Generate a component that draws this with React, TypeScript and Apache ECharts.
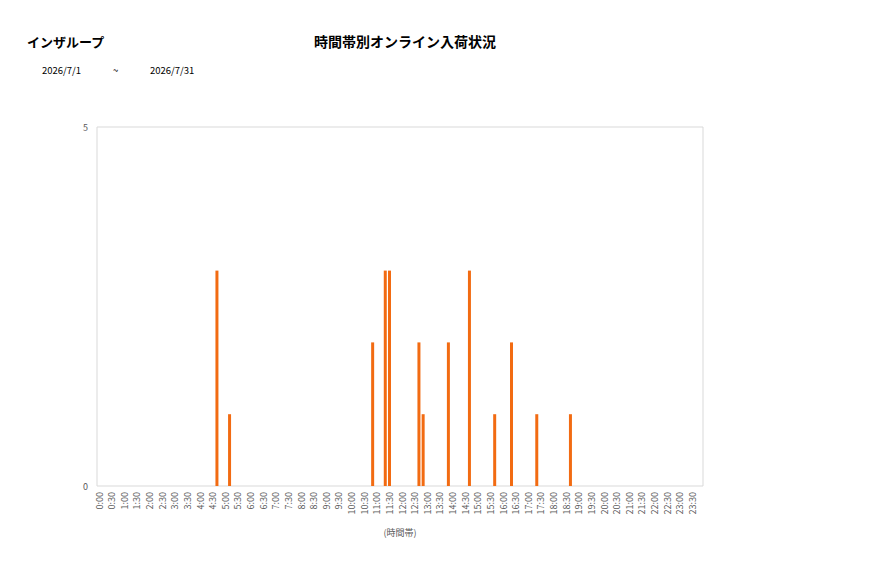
import { useEffect, useRef } from 'react';
import * as echarts from 'echarts';

const groupName = 'インザループ';
const chartTitle = '時間帯別オンライン入荷状況';
const dateFrom = '2026/7/1';
const dateTo = '2026/7/31';
const xAxisName = '(時間帯)';

// 10分刻みの時間帯 (0:00 ～ 23:50)
const timeSlots: string[] = [];
for (let h = 0; h < 24; h++) {
  for (let m = 0; m < 60; m += 10) {
    timeSlots.push(`${h}:${m === 0 ? '00' : m}`);
  }
}

// 入荷のあった時間帯と件数
const arrivalTimes = ['4:40', '5:10', '10:50', '11:20', '11:30', '12:40', '12:50', '13:50', '14:40', '15:40', '16:20', '17:20', '18:40'];
const arrivalCounts = [3, 1, 2, 3, 3, 2, 1, 2, 3, 1, 2, 1, 1];

const yMin = 0;
const yMax = 5;

const FONT = '"Noto Sans CJK JP", "Noto Sans", sans-serif';

const App: React.FC = () => {
  const chartRef = useRef<HTMLDivElement>(null);

  useEffect(() => {
    document.body.style.margin = '0';
    if (!chartRef.current) return;
    const chart = echarts.init(chartRef.current, undefined, { renderer: 'svg' });

    const values = timeSlots.map((t) => {
      const i = arrivalTimes.indexOf(t);
      return i >= 0 ? arrivalCounts[i] : 0;
    });

    chart.setOption({
      animation: false,
      backgroundColor: '#ffffff',
      textStyle: { fontFamily: FONT },
      grid: {
        left: 97,
        top: 127,
        width: 606,
        height: 359,
        show: true,
        borderColor: '#d9d9d9',
        borderWidth: 1,
        containLabel: false,
      },
      xAxis: {
        type: 'category',
        data: timeSlots,
        name: xAxisName,
        nameLocation: 'middle',
        nameGap: 42,
        nameTextStyle: { color: '#595959', fontSize: 9, fontFamily: FONT },
        axisLine: { show: false },
        axisTick: { show: false },
        axisLabel: {
          interval: 2,
          rotate: 90,
          color: '#595959',
          fontSize: 9,
          margin: 6,
          fontFamily: FONT,
        },
        splitLine: { show: false },
      },
      yAxis: {
        type: 'value',
        min: yMin,
        max: yMax,
        interval: 5,
        axisLine: { show: false },
        axisTick: { show: false },
        splitLine: { show: false },
        axisLabel: { color: '#595959', fontSize: 9, margin: 9, fontFamily: FONT },
      },
      series: [
        {
          type: 'bar',
          data: values,
          barWidth: 3,
          itemStyle: { color: '#f26b12' },
        },
      ],
      graphic: [
        {
          type: 'text',
          left: 27,
          top: 35,
          style: { text: groupName, fill: '#000', fontSize: 13, fontWeight: 'bold', fontFamily: FONT },
        },
        {
          type: 'text',
          left: 314,
          top: 34,
          style: { text: chartTitle, fill: '#000', fontSize: 14, fontWeight: 'bold', fontFamily: FONT },
        },
        {
          type: 'text',
          left: 42,
          top: 65,
          style: { text: dateFrom, fill: '#000', fontSize: 9.5, fontFamily: FONT },
        },
        {
          type: 'text',
          left: 113,
          top: 65,
          style: { text: '~', fill: '#000', fontSize: 9.5, fontFamily: FONT },
        },
        {
          type: 'text',
          left: 150,
          top: 65,
          style: { text: dateTo, fill: '#000', fontSize: 9.5, fontFamily: FONT },
        },
      ],
    });

    return () => {
      chart.dispose();
    };
  }, []);

  return <div ref={chartRef} style={{ width: 877, height: 578 }} />;
};

export default App;
